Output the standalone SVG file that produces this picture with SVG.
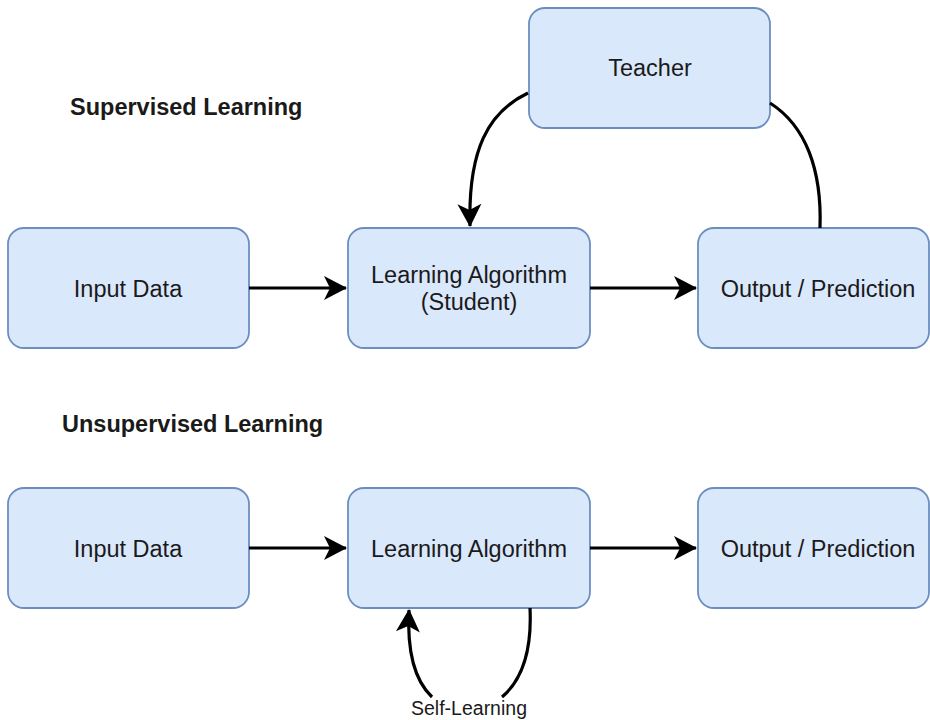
<svg xmlns="http://www.w3.org/2000/svg" width="930" height="720" viewBox="0 0 930 720">
<style>
.box{fill:#dae8fc;stroke:#6c8ebf;stroke-width:1.8}
.lbl{font-family:"Liberation Sans",Arial,sans-serif;font-size:23.5px;fill:#1a1a1a;text-anchor:middle}
.ttl{font-family:"Liberation Sans",Arial,sans-serif;font-size:23.5px;font-weight:bold;fill:#1a1a1a}
.edge{fill:none;stroke:#000;stroke-width:3.2}
.small{font-family:"Liberation Sans",Arial,sans-serif;font-size:19.5px;fill:#1a1a1a;text-anchor:middle}
</style>
<defs>
<marker id="arr" markerUnits="userSpaceOnUse" markerWidth="24" markerHeight="26" refX="22" refY="13" orient="auto" viewBox="0 0 24 26">
<path d="M0,1 L23,13 L0,25 L6,13 Z" fill="#000"/>
</marker>
</defs>
<rect width="930" height="720" fill="#fff"/>
<text class="ttl" x="70" y="115">Supervised Learning</text>
<text class="ttl" x="62" y="432">Unsupervised Learning</text>

<g id="teacher"><rect class="box" x="529" y="8" width="241" height="120" rx="16"/><text class="lbl" x="650" y="76">Teacher</text></g>
<g id="input1"><rect class="box" x="8" y="228" width="241" height="120" rx="16"/><text class="lbl" x="128" y="297">Input Data</text></g>
<g id="learn1"><rect class="box" x="348" y="228" width="242" height="120" rx="16"/><text class="lbl" x="469" y="283">Learning Algorithm</text><text class="lbl" x="469" y="310">(Student)</text></g>
<g id="output1"><rect class="box" x="698" y="228" width="231" height="120" rx="16"/><text class="lbl" x="818" y="297">Output / Prediction</text></g>
<g id="input2"><rect class="box" x="8" y="488" width="241" height="120" rx="16"/><text class="lbl" x="128" y="557">Input Data</text></g>
<g id="learn2"><rect class="box" x="348" y="488" width="242" height="120" rx="16"/><text class="lbl" x="469" y="557">Learning Algorithm</text></g>
<g id="output2"><rect class="box" x="698" y="488" width="231" height="120" rx="16"/><text class="lbl" x="818" y="557">Output / Prediction</text></g>

<g id="connectors">
<path class="edge" d="M249,288 L346,288" marker-end="url(#arr)"/>
<path class="edge" d="M590,288 L696,288" marker-end="url(#arr)"/>
<path class="edge" d="M249,548 L346,548" marker-end="url(#arr)"/>
<path class="edge" d="M590,548 L696,548" marker-end="url(#arr)"/>
<path class="edge" d="M528,93 C488,112 468,150 470,226" marker-end="url(#arr)"/>
<path class="edge" d="M770,103 C806,126 822,170 820,228"/>
<path class="edge" d="M530,608 C532,650 522,680 502,697"/>
<path class="edge" d="M432,697 C414,680 407,650 409,610" marker-end="url(#arr)"/>
<text class="small" x="469" y="715">Self-Learning</text>
</g>
</svg>
